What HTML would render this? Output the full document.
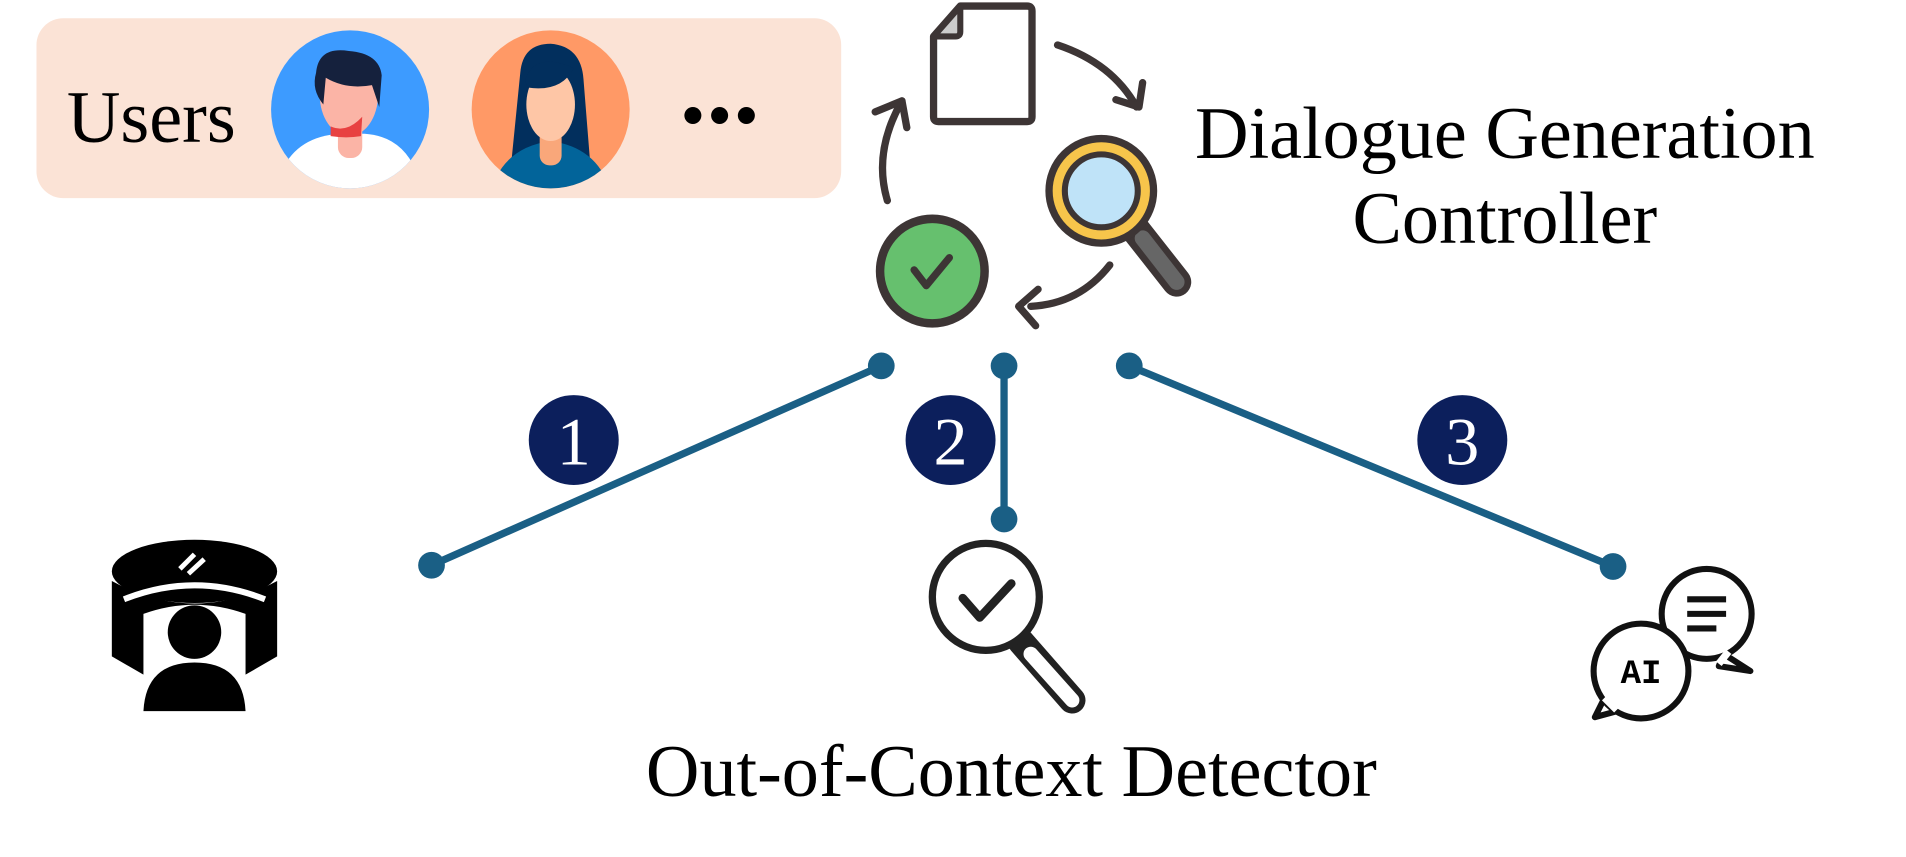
<!DOCTYPE html>
<html><head><meta charset="utf-8"><style>
html,body{margin:0;padding:0;background:#fff;width:1906px;height:857px;overflow:hidden}
svg{display:block}
text{font-family:"Liberation Serif",serif}
</style></head><body>
<svg width="1906" height="857" viewBox="0 0 1568 705" preserveAspectRatio="none" xmlns="http://www.w3.org/2000/svg">
<rect x="30" y="15" width="662" height="148" rx="22" fill="#fbe3d6"/>
<text x="55" y="117" font-size="61">Users</text>
<clipPath id="c1"><circle cx="288" cy="90" r="65"/></clipPath>
<circle cx="288" cy="90" r="65" fill="#3d9bff"/>
<g clip-path="url(#c1)">
<path d="M232 140 Q245 112 280 110 L300 110 Q330 112 342 140 L342 160 L232 160Z" fill="#fff"/>
<rect x="278" y="92" width="20" height="38" rx="9" fill="#fbb4a6"/>
<ellipse cx="287" cy="78" rx="24" ry="34" fill="#fbb4a6"/>
<path d="M260 60 Q262 38 287 42 Q312 44 314 62 L312 88 L306 70 Q285 74 268 64 L266 86 Q256 74 260 60Z" fill="#15213d"/>
<path d="M272 104 Q285 110 298 96 L297 112 Q285 114 272 112Z" fill="#e84141"/>
</g>
<clipPath id="c2"><circle cx="453" cy="90" r="65"/></clipPath>
<circle cx="453" cy="90" r="65" fill="#ff9966"/>
<g clip-path="url(#c2)">
<path d="M428 60 Q430 36 453 36 Q478 38 480 65 L486 140 L420 140Z" fill="#022f5d"/>
<path d="M402 165 Q410 122 453 116 Q496 122 504 165Z" fill="#02649a"/>
<rect x="444" y="100" width="18" height="36" rx="8" fill="#f9a77a"/>
<ellipse cx="453" cy="86" rx="20" ry="30" fill="#fec6a6"/>
<path d="M432 66 Q440 42 472 56 Q462 76 434 72Z" fill="#022f5d"/>
</g>
<circle cx="570" cy="95" r="7"/><circle cx="592" cy="95" r="7"/><circle cx="614" cy="95" r="7"/>
<path d="M790 5 L845 5 Q849 5 849 9 L849 96 Q849 100 845 100 L772 100 Q768 100 768 96 L768 30Z" fill="#fff" stroke="#3d3535" stroke-width="6" stroke-linejoin="round"/>
<path d="M790 5 L790 26 Q790 30 786 30 L768 30Z" fill="#ccc" stroke="#3d3535" stroke-width="5" stroke-linejoin="round"/>
<g fill="none" stroke="#3d3535" stroke-width="6" stroke-linecap="round" stroke-linejoin="round">
<path d="M870 37 Q915 52 935 88"/><path d="M918 82 L937 88 L940 68"/>
<path d="M730 165 Q718 125 742 83"/><path d="M720 92 L742 83 L746 105"/>
<path d="M913 218 Q888 250 848 252"/><path d="M854 238 L838 252 L852 268"/>
</g>
<line x1="935" y1="190" x2="968" y2="232" stroke="#3d3535" stroke-width="24" stroke-linecap="round"/>
<line x1="940" y1="196" x2="968" y2="232" stroke="#666" stroke-width="13" stroke-linecap="round"/>
<circle cx="906" cy="157" r="43" fill="#f7c54b" stroke="#3d3535" stroke-width="6"/>
<circle cx="906" cy="157" r="30" fill="#bfe3f8" stroke="#3d3535" stroke-width="5"/>
<circle cx="767" cy="223" r="43" fill="#66c06e" stroke="#3d3535" stroke-width="7"/>
<path d="M752 222 L762 235 L781 212" fill="none" stroke="#3d3535" stroke-width="6" stroke-linecap="round" stroke-linejoin="round"/>
<text x="1238" y="130" font-size="61" text-anchor="middle">Dialogue Generation</text>
<text x="1238" y="200" font-size="61" text-anchor="middle">Controller</text>
<g stroke="#1a5f85" stroke-width="6"><line x1="725" y1="301" x2="355" y2="465"/><line x1="826" y1="301" x2="826" y2="427"/><line x1="929" y1="301" x2="1327" y2="466"/></g>
<g fill="#1a5f85"><circle cx="725" cy="301" r="11"/><circle cx="355" cy="465" r="11"/><circle cx="826" cy="301" r="11"/><circle cx="826" cy="427" r="11"/><circle cx="929" cy="301" r="11"/><circle cx="1327" cy="466" r="11"/></g>
<g fill="#0c1f5c"><circle cx="472" cy="362" r="37"/><circle cx="782" cy="362" r="37"/><circle cx="1203" cy="362" r="37"/></g>
<g fill="#fff" font-size="56" text-anchor="middle"><text x="472" y="382">1</text><text x="782" y="382">2</text><text x="1203" y="382">3</text></g>
<ellipse cx="160" cy="470" rx="68" ry="26" fill="#000"/>
<path d="M92 478 L92 540 L118 555 L118 505 Q160 490 202 505 L202 555 L228 540 L228 478 Q160 515 92 478Z" fill="#000"/>
<path d="M102 493 Q160 470 218 493" fill="none" stroke="#fff" stroke-width="5"/>
<path d="M148 468 L160 456 M155 472 L168 460" stroke="#fff" stroke-width="4"/>
<circle cx="160" cy="520" r="22" fill="#000"/>
<path d="M118 585 Q120 545 160 545 Q200 545 202 585Z" fill="#000"/>
<line x1="840" y1="528" x2="882" y2="576" stroke="#222" stroke-width="22" stroke-linecap="round"/>
<line x1="848" y1="538" x2="882" y2="576" stroke="#fff" stroke-width="12" stroke-linecap="round"/>
<circle cx="811" cy="491" r="44" fill="#fff" stroke="#222" stroke-width="6"/>
<path d="M792 492 L806 508 L832 480" fill="none" stroke="#222" stroke-width="7" stroke-linecap="round" stroke-linejoin="round"/>
<path d="M1418 538 L1440 552 L1414 548Z" fill="#fff" stroke="#111" stroke-width="5" stroke-linejoin="round"/>
<circle cx="1404" cy="505" r="37" fill="#fff" stroke="#111" stroke-width="5"/>
<path d="M1422 536 L1414 546" stroke="#fff" stroke-width="6"/>
<line x1="1388" y1="493" x2="1420" y2="493" stroke="#111" stroke-width="5"/><line x1="1388" y1="505" x2="1420" y2="505" stroke="#111" stroke-width="5"/><line x1="1388" y1="517" x2="1412" y2="517" stroke="#111" stroke-width="5"/>
<path d="M1322 570 L1312 590 L1334 584Z" fill="#fff" stroke="#111" stroke-width="5" stroke-linejoin="round"/>
<circle cx="1350" cy="552" r="39" fill="#fff" stroke="#111" stroke-width="5"/>
<path d="M1320 574 L1330 584" stroke="#fff" stroke-width="6"/>
<text x="1350" y="562" font-size="28" font-weight="bold" text-anchor="middle" style="font-family:'Liberation Mono',monospace">AI</text>
<text x="832" y="655" font-size="61" text-anchor="middle">Out-of-Context Detector</text>
</svg>
</body></html>
